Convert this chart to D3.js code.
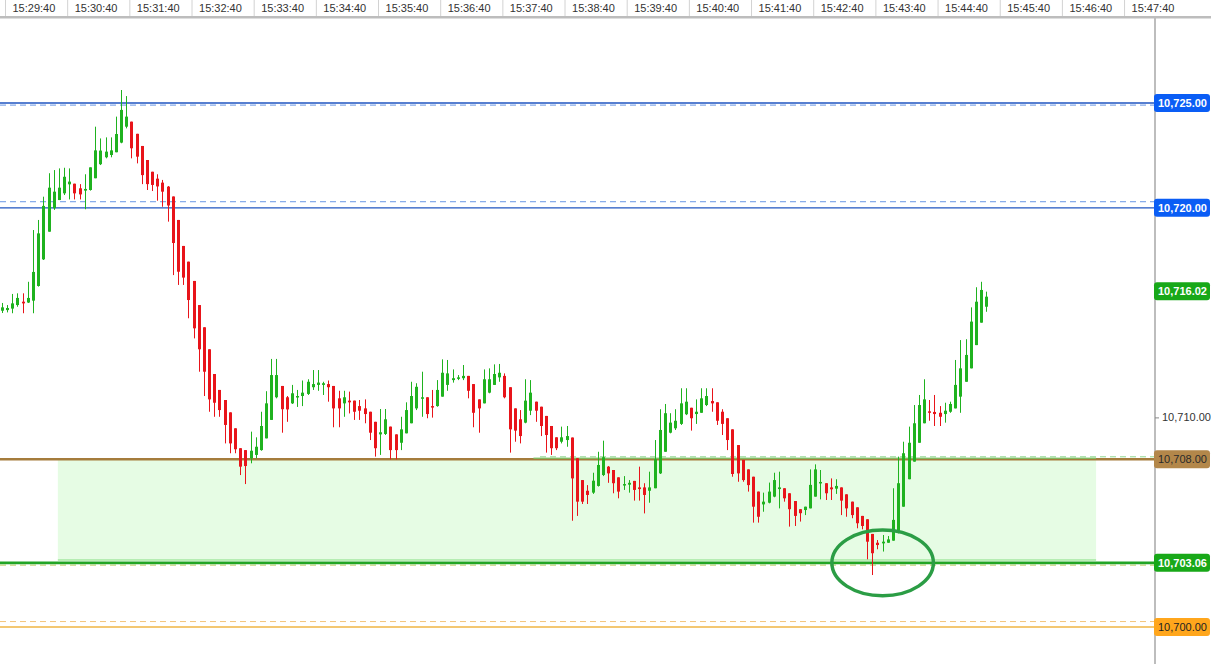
<!DOCTYPE html>
<html><head><meta charset="utf-8">
<script src="https://cdn.jsdelivr.net/npm/d3@7"></script>
<style>
html,body{margin:0;padding:0;background:#fff;overflow:hidden;}
svg{display:block;font-family:"Liberation Sans",Arial,sans-serif;}
</style></head><body>
<svg id="chart" width="1211" height="664"></svg>
<script>
// ---------- data ----------
const barStart = "15:29:37";   // time of first 5-second bar
const barSeconds = 5;

const opens = [
10715.09,10715.12,10715.19,10715.36,10715.52,10715.48,10715.57,10716.27,10717.54,10718.86,
10719.98,10720.37,10720.69,10721.12,10721.15,10720.93,10720.82,10720.85,10721.41,10722.08,
10722.41,10722.52,10722.65,10723.11,10723.87,10724.11,10723.53,10722.95,10722.28,10721.72,
10721.39,10721.20,10721.01,10720.54,10719.42,10718.18,10717.43,10716.51,10715.36,10714.30,
10713.25,10712.07,10711.31,10710.83,10710.24,10709.48,10708.53,10708.44,10708.05,10708.21,
10708.44,10709.00,10709.88,10710.96,10711.50,10710.96,10710.67,10710.96,10711.02,10711.12,
10711.44,10711.55,10711.55,10711.59,10711.50,10710.91,10710.67,10710.80,10710.80,10710.54,
10710.43,10710.27,10709.79,10709.19,10709.21,10709.56,10709.19,10708.79,10709.24,10709.72,
10710.43,10710.91,10710.96,10710.54,10710.54,10710.99,10711.55,10711.78,10711.87,10711.87,
10711.98,10711.59,10710.86,10710.67,10711.18,10711.55,10711.91,10711.98,10711.44,10710.43,
10709.91,10709.75,10710.32,10710.75,10710.51,10710.07,10709.59,10709.05,10708.84,10708.92,
10709.04,10708.05,10707.01,10706.50,10706.41,10706.73,10707.25,10707.65,10707.49,10707.14,
10706.76,10706.79,10706.97,10706.66,10706.66,10706.50,10706.62,10707.33,10708.36,10709.27,
10709.48,10709.69,10710.15,10710.46,10710.16,10710.22,10710.59,10710.78,10710.72,10710.27,
10709.96,10709.43,10708.68,10707.97,10707.52,10707.17,10706.46,10705.85,10705.93,10706.22,
10706.58,10706.62,10706.38,10706.01,10705.62,10705.58,10705.66,10706.22,10706.86,10706.86,
10706.66,10706.60,10706.66,10706.33,10705.98,10705.71,10705.30,10705.14,10704.44,10704.02,
10703.99,10704.02,10704.12,10704.59,10705.74,10707.05,10707.89,10708.79,10709.72,10710.29,
10710.26,10710.22,10710.16,10710.27,10710.43,10710.99,10711.70,10712.34,10713.45,10714.52,
10715.28
];
const highs = [
10715.46,10715.36,10715.89,10715.92,10715.92,10716.47,10718.94,10719.42,10720.53,10721.65,
10721.80,10721.88,10721.91,10721.88,10721.15,10721.13,10721.60,10721.93,10723.87,10723.31,
10723.36,10723.36,10724.35,10725.62,10725.33,10724.11,10723.53,10722.95,10722.28,10721.72,
10721.60,10721.33,10721.04,10720.54,10719.42,10718.18,10717.43,10716.51,10715.36,10714.30,
10713.25,10712.07,10711.31,10710.83,10710.24,10709.48,10708.53,10708.44,10709.32,10709.05,
10710.27,10711.25,10712.79,10712.79,10711.50,10711.02,10711.55,10711.31,10711.76,10711.82,
10712.26,10712.26,10711.70,10711.76,10711.50,10711.27,10711.27,10711.23,10710.80,10710.83,
10710.86,10710.27,10709.79,10710.40,10710.40,10709.56,10709.19,10710.03,10710.72,10711.70,
10711.63,10712.18,10710.96,10711.31,10711.78,10712.77,10712.74,10712.29,10712.02,10712.50,
10711.98,10711.59,10710.86,10712.29,10712.34,10712.53,10712.55,10712.10,10711.44,10710.43,
10710.35,10711.82,10711.78,10710.75,10710.51,10710.07,10709.59,10709.05,10709.56,10709.59,
10709.04,10708.05,10707.01,10706.77,10707.36,10708.36,10708.89,10707.68,10707.49,10707.14,
10707.20,10707.01,10706.97,10707.65,10706.86,10707.41,10708.92,10710.39,10710.64,10710.20,
10710.39,10711.39,10711.39,10710.46,10710.86,10711.39,10711.39,10711.39,10710.72,10710.39,
10709.96,10709.43,10708.68,10707.97,10707.52,10707.17,10706.46,10706.41,10706.89,10707.36,
10707.41,10706.62,10706.38,10706.01,10705.62,10705.74,10707.52,10707.76,10707.49,10706.86,
10707.09,10707.05,10706.66,10706.33,10705.98,10705.71,10705.30,10705.14,10704.44,10704.15,
10704.39,10704.34,10706.62,10708.13,10708.84,10709.56,10710.59,10711.07,10711.82,10710.83,
10711.07,10710.54,10710.70,10710.75,10712.74,10713.69,10713.73,10715.25,10716.21,10716.47,
10716.00
];
const lows = [
10714.98,10715.01,10714.97,10715.28,10714.97,10715.46,10714.97,10716.24,10717.51,10718.86,
10719.90,10720.37,10720.61,10720.40,10720.40,10720.40,10719.93,10720.82,10721.41,10722.04,
10722.36,10722.41,10722.65,10723.08,10723.79,10722.36,10722.12,10721.13,10720.85,10720.80,
10720.34,10720.05,10719.34,10716.79,10716.32,10716.32,10714.73,10713.77,10712.18,10711.02,
10710.27,10710.03,10710.03,10708.76,10708.29,10708.29,10707.25,10706.82,10707.81,10708.05,
10708.41,10709.00,10709.88,10710.91,10709.27,10709.79,10710.64,10710.50,10710.54,10711.07,
10711.31,10711.27,10711.07,10710.75,10709.53,10709.53,10710.03,10710.19,10709.88,10709.88,
10709.72,10708.92,10708.13,10708.21,10709.16,10708.00,10708.00,10708.44,10709.24,10709.72,
10710.35,10710.03,10709.96,10709.99,10710.51,10710.99,10711.27,10711.66,10711.78,10711.78,
10710.91,10709.53,10709.27,10710.67,10711.15,10711.55,10711.70,10710.91,10708.32,10708.84,
10708.76,10709.72,10710.11,10709.79,10709.11,10708.32,10708.21,10708.44,10708.76,10708.60,
10705.07,10705.30,10705.87,10705.87,10706.35,10706.70,10707.20,10706.88,10706.38,10706.14,
10706.54,10706.41,10706.03,10706.03,10705.42,10705.93,10706.62,10707.30,10708.36,10709.24,
10709.40,10709.64,10710.11,10709.37,10709.69,10710.22,10710.54,10710.27,10709.64,10709.16,
10708.44,10707.17,10706.93,10706.93,10706.46,10704.98,10704.98,10705.50,10705.90,10706.19,
10705.66,10705.98,10704.79,10704.82,10705.03,10705.34,10705.66,10706.22,10706.09,10706.06,
10706.06,10706.35,10705.34,10705.26,10705.19,10704.71,10704.66,10703.23,10702.48,10703.71,
10703.60,10704.02,10704.12,10704.47,10705.74,10707.05,10707.89,10708.79,10709.72,10709.84,
10709.59,10709.59,10709.75,10710.22,10710.43,10710.22,10711.70,10712.34,10713.45,10714.52,
10715.04
];
const closes = [
10715.25,10715.22,10715.44,10715.70,10715.44,10715.70,10716.94,10718.78,10720.09,10720.96,
10720.77,10720.96,10721.48,10721.25,10720.69,10720.64,10720.90,10721.93,10722.74,10722.73,
10722.68,10722.74,10723.52,10724.67,10724.35,10722.84,10722.44,10721.56,10721.13,10721.09,
10721.02,10720.77,10720.11,10718.32,10716.95,10716.67,10715.60,10714.25,10713.25,10712.18,
10710.86,10710.70,10710.35,10709.64,10708.76,10708.48,10707.65,10707.68,10708.41,10708.60,
10709.59,10710.67,10712.02,10712.02,10710.39,10710.38,10711.15,10711.02,10711.18,10711.70,
10711.59,10711.66,10711.63,10711.44,10710.43,10710.43,10710.96,10710.72,10710.27,10710.32,
10710.16,10709.27,10708.53,10709.29,10709.91,10708.44,10708.44,10709.43,10710.35,10711.02,
10711.46,10710.96,10710.16,10710.48,10711.31,10712.13,10712.10,10711.87,10711.91,10711.98,
10711.27,10710.22,10710.43,10711.82,10711.82,10712.07,10712.13,10710.96,10709.43,10709.37,
10709.11,10710.80,10711.18,10710.32,10709.59,10709.16,10708.53,10708.53,10709.05,10709.11,
10707.09,10705.98,10705.98,10706.30,10706.98,10707.73,10708.10,10707.33,10706.86,10706.46,
10706.82,10706.88,10706.54,10706.58,10706.30,10706.66,10708.00,10709.40,10710.20,10709.75,
10709.84,10710.67,10710.75,10709.96,10710.27,10710.91,10711.02,10710.67,10709.84,10709.69,
10708.92,10707.30,10707.33,10707.01,10706.77,10705.74,10705.26,10705.98,10706.46,10707.01,
10706.66,10706.14,10705.62,10705.30,10705.43,10705.74,10706.78,10707.52,10706.92,10706.38,
10706.57,10706.73,10706.03,10705.66,10705.34,10704.95,10704.82,10704.07,10703.52,10703.91,
10704.07,10704.18,10705.11,10706.86,10708.29,10708.79,10709.72,10710.59,10710.86,10710.22,
10710.16,10710.03,10710.32,10710.64,10711.55,10712.34,10712.98,10714.57,10715.52,10716.08,
10715.76
];

const timeTicks = ["15:29:40","15:30:40","15:31:40","15:32:40","15:33:40","15:34:40","15:35:40",
  "15:36:40","15:37:40","15:38:40","15:39:40","15:40:40","15:41:40","15:42:40","15:43:40",
  "15:44:40","15:45:40","15:46:40","15:47:40"];
const priceTicks = [10710];

const levelNames = ["r725","r720","s708","s703","s700"];
const levelValues = [10725, 10720, 10708, 10703.06, 10700];
const levelLabels = ["10,725.00","10,720.00","10,708.00","10,703.06","10,700.00"];
const levelShadow = [10724.90, 10720.29, 10708.12, 10702.95, 10700.26]; // dashed companions
const lastPrice = 10716.02;
const lastLabel = "10,716.02";

const zoneTimes = ["15:30:31","15:47:13"];
const zonePrices = [10708, 10703.20];
const zoneEdgeStart = "15:38:10";
const circleCenter = ["15:43:47", 10703.06];
const circleHalfSpan = [49, 1.57];   // seconds, points

// ---------- helpers ----------
const secs = s => { const [h,m,sec] = s.split(":").map(Number); return h*3600+m*60+sec; };
const t0 = secs(barStart);
const bars = opens.map((o,i)=>({t:t0+i*barSeconds,o,h:highs[i],l:lows[i],c:closes[i]}));

const W=1211, H=664, axisX=1155, axisY=18;
const x = d3.scaleLinear().domain([secs("15:29:40"), secs("15:47:40")]).range([5, 5+18*62.17]);
const y = d3.scaleLinear().domain([10725, 10700]).range([103, 627]);

const svg = d3.select("#chart");
const plot = svg.append("g");

// zone rectangle
const zx0 = x(secs(zoneTimes[0])), zx1 = x(secs(zoneTimes[1]));
plot.append("rect")
  .attr("x", zx0).attr("y", y(zonePrices[0]))
  .attr("width", zx1-zx0)
  .attr("height", y(zonePrices[1])-y(zonePrices[0]))
  .attr("fill","#e6fce4");
plot.append("line").attr("x1",zx0).attr("x2",zx1)
  .attr("y1",y(zonePrices[1])).attr("y2",y(zonePrices[1]))
  .attr("stroke","#a5e8a0").attr("stroke-width",1.5);

// level lines
const solidStyle = {
  r725:{c:"#1f55c0",w:1.3}, r720:{c:"#1f55c0",w:1.3},
  s708:{c:"#a57c3c",w:2.6}, s703:{c:"#22a526",w:2.6}, s700:{c:"#efb443",w:1.4}
};
const dashStyle = {
  r725:{c:"#6896e4",x0:0}, r720:{c:"#6896e4",x0:0},
  s708:{c:"#8fd88f",x0:540}, s703:{c:"#c2cd6a",x0:0}, s700:{c:"#f3c47a",x0:0}
};
levelNames.forEach((n,i)=>{
  const ds = dashStyle[n];
  plot.append("line").attr("x1",ds.x0).attr("x2",axisX)
    .attr("y1",y(levelShadow[i])).attr("y2",y(levelShadow[i]))
    .attr("stroke",ds.c).attr("stroke-width",1).attr("stroke-dasharray","6,4");
  const ss = solidStyle[n];
  plot.append("line").attr("x1",0).attr("x2",axisX)
    .attr("y1",y(levelValues[i])).attr("y2",y(levelValues[i]))
    .attr("stroke",ss.c).attr("stroke-width",ss.w);
});
// green top edge of zone over the brown level on the right part
plot.append("line").attr("x1",x(secs(zoneEdgeStart))).attr("x2",zx1)
  .attr("y1",y(zonePrices[0])-1).attr("y2",y(zonePrices[0])-1)
  .attr("stroke","#7cc86a").attr("stroke-width",1.5).attr("opacity",0.8);

// candles
const up="#1fb21f", dn="#e8141a";
const cg = plot.append("g");
bars.forEach(b=>{
  const cx = Math.round(x(b.t));
  const col = b.c>=b.o ? up : dn;
  cg.append("rect").attr("x",cx).attr("width",1)
    .attr("y",y(b.h)).attr("height",Math.max(1,y(b.l)-y(b.h))).attr("fill",col);
  const top = y(Math.max(b.o,b.c)), bot = y(Math.min(b.o,b.c));
  cg.append("rect").attr("x",cx-1).attr("width",3)
    .attr("y",top).attr("height",Math.max(1.5,bot-top)).attr("fill",col);
});

// ellipse annotation
const ecx = x(secs(circleCenter[0])), ecy = y(circleCenter[1]);
plot.append("ellipse").attr("cx",ecx).attr("cy",ecy)
  .attr("rx", x(secs(circleCenter[0])+circleHalfSpan[0]) - ecx)
  .attr("ry", y(circleCenter[1]-circleHalfSpan[1]) - ecy)
  .attr("fill","none").attr("stroke","#2b9d45").attr("stroke-width",3.5);

// top time axis
svg.append("rect").attr("x",0).attr("y",0).attr("width",W).attr("height",axisY-2).attr("fill","#fff");
const xAxis = d3.axisTop(x).tickValues(timeTicks.map(secs)).tickSize(16)
  .tickFormat((d,i)=>timeTicks[i]);
const gx = svg.append("g").attr("transform",`translate(0,16)`).call(xAxis);
gx.select(".domain").remove();
gx.selectAll(".tick line").attr("stroke","#d2d2d2").attr("stroke-width",1);
gx.selectAll(".tick text").attr("x",7).attr("y",-4).attr("text-anchor","start")
  .attr("fill","#333").style("font-size","11px").style("font-family",'"Liberation Sans",Arial,sans-serif');
svg.append("rect").attr("x",0).attr("y",16).attr("width",W).attr("height",2.5).attr("fill","#bdbdbd");

// right price axis
svg.append("rect").attr("x",axisX-1).attr("y",16).attr("width",2).attr("height",H-16).attr("fill","#bdbdbd");
const yAxis = d3.axisRight(y).tickValues(priceTicks).tickSize(4).tickFormat(d3.format(",.2f"));
const gy = svg.append("g").attr("transform",`translate(${axisX},0)`).call(yAxis);
gy.select(".domain").remove();
gy.selectAll(".tick line").attr("stroke","#888");
gy.selectAll(".tick text").attr("x",7).attr("fill","#333")
  .style("font-size","11px").style("font-family",'"Liberation Sans",Arial,sans-serif');

// price labels
const boxStyle = {
  r725:{bg:"#0a5df5",fg:"#fff",b:true}, r720:{bg:"#0a5df5",fg:"#fff",b:true},
  s708:{bg:"#b3874a",fg:"#2a2a2a",b:false}, s703:{bg:"#18a818",fg:"#fff",b:true},
  s700:{bg:"#ffa61c",fg:"#222",b:false}
};
function priceBox(val, txt, st){
  const g = svg.append("g").attr("transform",`translate(${axisX-1},${y(val)})`);
  g.append("rect").attr("x",0).attr("y",-9).attr("width",56).attr("height",18).attr("rx",3)
    .attr("fill",st.bg);
  g.append("text").attr("x",4).attr("y",0).attr("dy","0.36em").attr("fill",st.fg)
    .style("font-size","11px").style("font-weight",st.b?"bold":"normal").text(txt);
}
levelNames.forEach((n,i)=>priceBox(levelValues[i], levelLabels[i], boxStyle[n]));
priceBox(lastPrice, lastLabel, {bg:"#18a818",fg:"#fff",b:true});
</script>
</body></html>
